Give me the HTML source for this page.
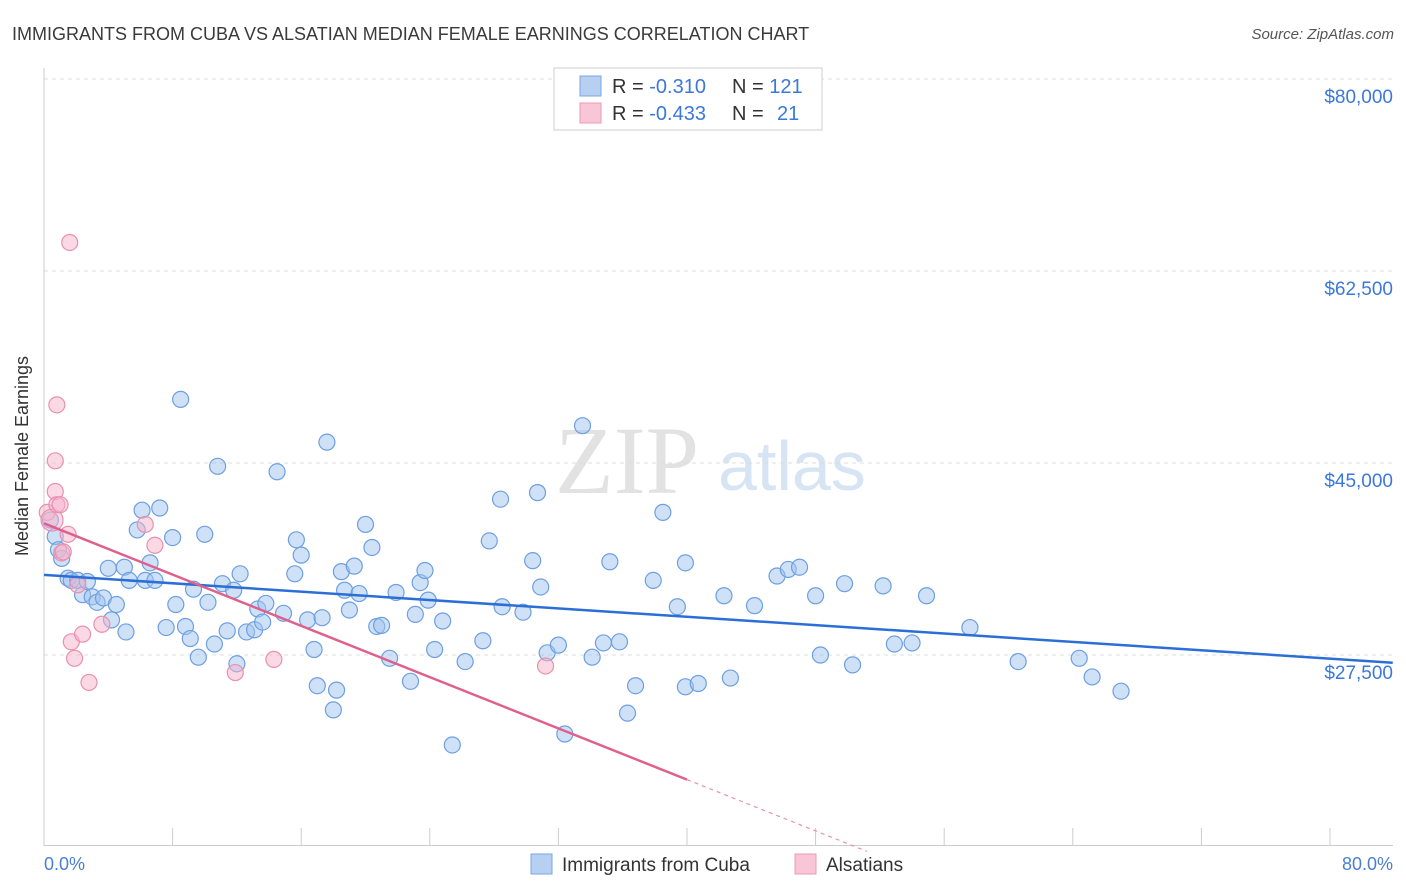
<!DOCTYPE html>
<html><head><meta charset="utf-8"><style>
body{margin:0;background:#fff;font-family:"Liberation Sans",sans-serif;}
svg{display:block}
</style></head><body>
<svg id="chart" width="1406" height="892" viewBox="0 0 1406 892">
<text x="12" y="40" font-size="18" fill="#3a3a3a">IMMIGRANTS FROM CUBA VS ALSATIAN MEDIAN FEMALE EARNINGS CORRELATION CHART</text>
<text x="1394" y="39" font-size="15" fill="#555" font-style="italic" text-anchor="end">Source: ZipAtlas.com</text>
<g>
<text x="555" y="493" font-size="96" fill="#e2e2e2" font-family="Liberation Serif,serif">ZIP</text>
<text x="718" y="490" font-size="70" fill="#d6e4f4">atlas</text>
</g>
<g id="grid"></g>
<line x1="44" y1="68" x2="44" y2="846" stroke="#ccc"/>
<line x1="44" y1="845.5" x2="1393" y2="845.5" stroke="#ccc"/>
<g id="xticks"></g>
<text x="28" y="456" font-size="18" fill="#333" text-anchor="middle" transform="rotate(-90 28 456)">Median Female Earnings</text>
<text x="44" y="870" font-size="18" fill="#4a7fd0">0.0%</text>
<text x="1393" y="870" font-size="18" fill="#4a7fd0" text-anchor="end">80.0%</text>
<g id="pts"></g>
<g id="trends"></g>
<g>
<rect x="554" y="68" width="268" height="62" fill="#fff" stroke="#ccc"/>
<rect x="580" y="76" width="21" height="20" fill="#b7d0f2" stroke="#7aa6e3"/>
<rect x="580" y="103" width="21" height="20" fill="#f8c6d6" stroke="#eb9ab5"/>
<text x="612" y="93" font-size="20" fill="#333">R = <tspan fill="#3b78d8">-0.310</tspan><tspan x="732">N = </tspan><tspan fill="#3b78d8">121</tspan></text>
<text x="612" y="120" font-size="20" fill="#333">R = <tspan fill="#3b78d8">-0.433</tspan><tspan x="732">N = </tspan><tspan fill="#3b78d8" x="777">21</tspan></text>
</g>
<g>
<rect x="531" y="854" width="21" height="20" fill="#b7d0f2" stroke="#7aa6e3"/>
<text x="562" y="871" font-size="19" fill="#333">Immigrants from Cuba</text>
<rect x="795" y="854" width="21" height="20" fill="#f8c6d6" stroke="#eb9ab5"/>
<text x="826" y="871" font-size="19" fill="#333">Alsatians</text>
</g>
</svg>
<script>
const yTicks=[80000,62500,45000,27500];
const yTickLabels=["$80,000","$62,500","$45,000","$27,500"];
const xTicks=[0,8,16,24,32,40,48,56,64,72,80];
const blueX=[0.4,0.7,0.9,1.1,1.5,1.7,2.1,2.4,2.7,3.0,3.3,3.7,4.0,4.2,4.5,5.0,5.1,5.3,5.8,6.1,6.3,6.6,6.9,7.2,7.6,8.0,8.2,8.5,8.8,9.1,9.3,9.6,10.0,10.2,10.6,10.8,11.1,11.4,11.8,12.0,12.2,12.6,13.1,13.3,13.6,13.8,14.5,14.9,15.6,15.7,16.0,16.4,16.8,17.0,17.3,17.6,18.0,18.2,18.5,18.7,19.0,19.3,19.6,20.0,20.4,20.7,21.0,21.5,21.9,22.8,23.1,23.4,23.7,23.9,24.3,24.8,25.4,26.2,27.3,27.7,28.4,28.5,29.8,30.4,30.7,30.9,31.3,32.0,32.4,33.5,34.1,34.8,35.2,35.8,36.3,36.8,37.9,38.5,39.4,39.9,39.9,40.7,42.3,42.7,44.2,45.6,46.3,47.0,48.0,48.3,49.8,50.3,52.2,52.9,54.0,54.9,57.6,60.6,64.4,65.2,67.0];
const blueY=[39.8,38.3,37.1,36.3,34.5,34.3,34.3,33.0,34.2,32.8,32.3,32.7,35.4,30.7,32.1,35.5,29.6,34.3,38.9,40.7,34.3,35.9,34.3,40.9,30.0,38.2,32.1,50.8,30.1,29.0,33.5,27.3,38.5,32.3,28.5,44.7,34.0,29.7,33.4,26.7,34.9,29.6,29.8,31.7,30.5,32.2,44.2,31.3,34.9,38.0,36.6,30.7,28.0,24.7,30.9,46.9,22.5,24.3,35.1,33.4,31.6,35.6,33.1,39.4,37.3,30.1,30.2,27.2,33.2,25.1,31.2,34.1,35.2,32.5,28.0,30.6,19.3,26.9,28.8,37.9,41.7,31.9,31.4,36.1,42.3,33.7,27.7,28.4,20.3,48.4,27.3,28.6,36.0,28.7,22.2,24.7,34.3,40.5,31.9,24.6,35.9,24.9,32.9,25.4,32.0,34.7,35.3,35.5,32.9,27.5,34.0,26.6,33.8,28.5,28.6,32.9,30.0,26.9,27.2,25.5,24.2];
const pinkX=[0.2,0.5,0.7,0.8,0.7,0.8,1.0,1.1,1.2,1.5,1.6,1.7,1.9,2.1,2.4,2.8,3.6,6.3,6.9,11.9,14.3,31.2];
const pinkY=[40.5,39.8,42.4,41.2,45.2,50.3,41.2,36.8,36.9,38.5,65.1,28.7,27.2,33.9,29.4,25.0,30.3,39.4,37.5,25.9,27.1,26.5];
const blueTrend=[34.8,-0.0954];
const pinkTrend=[39.5,-0.584];
const pinkSolidEnd=40, pinkDashEnd=51.2, xMax=83.9;

const NS="http://www.w3.org/2000/svg";
const xs=v=>44+v*(1286/80);
const ys=v=>79+(80000-v)/17500*192;
function mk(t,a,p){const e=document.createElementNS(NS,t);for(const k in a)e.setAttribute(k,a[k]);p.appendChild(e);return e;}
const grid=document.getElementById('grid');
yTicks.forEach((t,i)=>{
  const l=mk('line',{x1:44,x2:1393,y1:ys(t),y2:ys(t),stroke:'#ddd','stroke-dasharray':'4,4'},grid);
  
  
  const tx=mk('text',{x:1393,y:ys(t)+24,'font-size':19,fill:'#3b78d8','text-anchor':'end'},grid);
  tx.textContent=yTickLabels[i];
  
  
});
const xt=document.getElementById('xticks');
xTicks.forEach(t=>{
  const l=mk('line',{x1:xs(t),x2:xs(t),y1:828,y2:846,stroke:'#ccc'},xt);
  
  
});
const pts=document.getElementById('pts');
blueX.forEach((x,i)=>{
  const c=mk('circle',{cx:xs(x),cy:ys(blueY[i]*1000),r:8,fill:'rgba(160,195,240,0.5)',stroke:'#6d9fe2','stroke-width':1.2},pts);
  
  
});
pinkX.forEach((x,i)=>{
  const c=mk('circle',{cx:xs(x),cy:ys(pinkY[i]*1000),r:i===1?11:8,fill:'rgba(245,180,202,0.5)',stroke:'#e890b0','stroke-width':1.2},pts);
  
  
});
const tr=document.getElementById('trends');
const bl=mk('line',{x1:xs(0),y1:ys(blueTrend[0]*1000),x2:xs(xMax),y2:ys((blueTrend[0]+blueTrend[1]*xMax)*1000),stroke:'#2b6fd6','stroke-width':2.5},tr);


const pl=mk('line',{x1:xs(0),y1:ys(pinkTrend[0]*1000),x2:xs(pinkSolidEnd),y2:ys((pinkTrend[0]+pinkTrend[1]*pinkSolidEnd)*1000),stroke:'#e0608c','stroke-width':2.5},tr);


const pd=mk('line',{x1:xs(pinkSolidEnd),y1:ys((pinkTrend[0]+pinkTrend[1]*pinkSolidEnd)*1000),x2:xs(pinkDashEnd),y2:ys((pinkTrend[0]+pinkTrend[1]*pinkDashEnd)*1000),stroke:'#e890b0','stroke-width':1.2,'stroke-dasharray':'4,4'},tr);


</script>
</body></html>
